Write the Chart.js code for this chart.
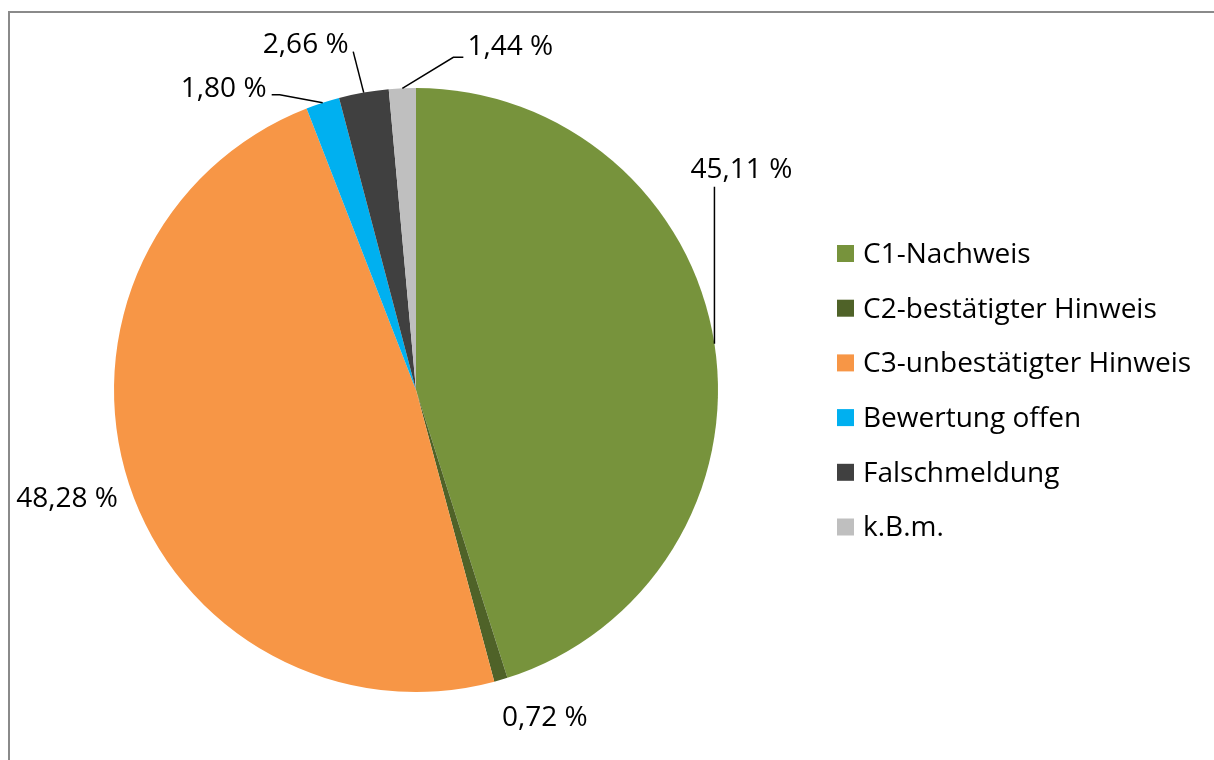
<!DOCTYPE html>
<html><head><meta charset="utf-8">
<script src="https://cdn.jsdelivr.net/npm/chart.js@4"></script>
<style>
html,body{margin:0;padding:0;background:#fff;overflow:hidden;width:1214px;height:760px}
#frame{position:absolute;left:8px;top:11px;width:1240px;height:800px;border:2px solid #8a8a8a;box-sizing:border-box}
#wrap{position:absolute;left:0;top:0;width:1214px;height:760px}
</style></head>
<body>
<div id="frame"></div>
<div id="wrap"><canvas id="c" width="1214" height="760"></canvas></div>
<script>
// ---- data ----
const categories = ['C1-Nachweis','C2-bestätigter Hinweis','C3-unbestätigter Hinweis','Bewertung offen','Falschmeldung','k.B.m.'];
const shares = [45.11, 0.72, 48.28, 1.80, 2.66, 1.44];
const shareLabels = ['45,11 %','0,72 %','48,28 %','1,80 %','2,66 %','1,44 %'];
const sliceColors = ['#77933C','#4F6228','#F79646','#00B0F0','#404040','#BFBFBF'];

// ---- label layout (offsets from the slice's rim midpoint) ----
const labelLayout = [
  {tx:27,  ty:-174, leader:[[0,-157]]},
  {tx:44,  ty:38,   leader:[]},
  {tx:-62, ty:15,   leader:[]},
  {tx:-99, ty:-14,  leader:[[-43,-8],[-51,-8]]},
  {tx:-58, ty:-48,  leader:[[-10.5,-41]]},
  {tx:108, ty:-41,  leader:[[51,-31],[61,-31]]}
];
const FONT = '28px "Open Sans", "Noto Sans", sans-serif';
const TEXT_COLOR = '#000000';

const labelPlugin = {
  id: 'sliceLabels',
  afterDatasetsDraw(chart) {
    const ctx = chart.ctx;
    const meta = chart.getDatasetMeta(0);
    ctx.save();
    ctx.font = FONT;
    ctx.fillStyle = TEXT_COLOR;
    ctx.textAlign = 'center';
    ctx.textBaseline = 'middle';
    meta.data.forEach((arc, i) => {
      const p = arc.getProps(['x','y','startAngle','endAngle','outerRadius'], true);
      const mid = (p.startAngle + p.endAngle) / 2;
      const rx = p.x + Math.cos(mid) * p.outerRadius;
      const ry = p.y + Math.sin(mid) * p.outerRadius;
      const L = labelLayout[i];
      if (L.leader.length) {
        ctx.beginPath();
        ctx.strokeStyle = '#000';
        ctx.lineWidth = 1.5;
        ctx.moveTo(rx, ry);
        L.leader.forEach(([dx,dy]) => ctx.lineTo(rx + dx, ry + dy));
        ctx.stroke();
      }
      ctx.fillText(shareLabels[i], rx + L.tx, ry + L.ty);
    });
    ctx.restore();
  }
};

const legendPlugin = {
  id: 'sideLegend',
  afterDraw(chart) {
    const ctx = chart.ctx;
    const x0 = 837, box = 17, textX = 863, y0 = 253.5, step = 54.7;
    ctx.save();
    ctx.font = FONT;
    ctx.textAlign = 'left';
    ctx.textBaseline = 'middle';
    chart.data.labels.forEach((lab, i) => {
      const y = y0 + i * step;
      ctx.fillStyle = chart.data.datasets[0].backgroundColor[i];
      ctx.fillRect(x0, y - box/2, box, box);
      ctx.fillStyle = TEXT_COLOR;
      ctx.fillText(lab, textX, y + 1.5);
    });
    ctx.restore();
  }
};

new Chart(document.getElementById('c'), {
  type: 'pie',
  data: {
    labels: categories,
    datasets: [{
      data: shares,
      backgroundColor: sliceColors,
      borderWidth: 0
    }]
  },
  options: {
    responsive: false,
    animation: false,
    layout: { padding: { left: 114, right: 496, top: 88, bottom: 68 } },
    plugins: { legend: { display: false }, tooltip: { enabled: false } }
  },
  plugins: [labelPlugin, legendPlugin]
});
</script>
</body></html>
